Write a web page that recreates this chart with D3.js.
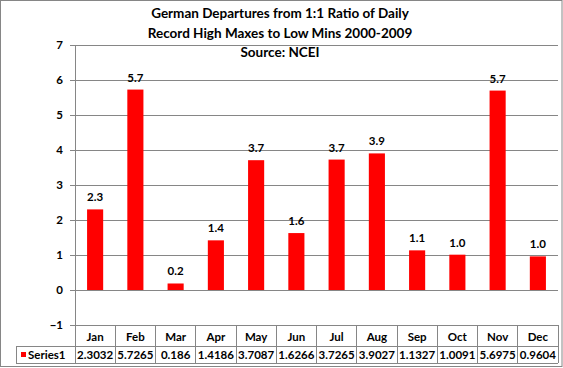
<!DOCTYPE html>
<html><head><meta charset="utf-8">
<script src="https://cdn.jsdelivr.net/npm/d3@7"></script>
<style>body{margin:0;background:#fff}svg{display:block}text{font-family:Lato,"Open Sans",sans-serif;font-weight:bold;fill:#000}</style>
</head><body><svg id="c" width="563" height="368"></svg>
<script>
const months = ["Jan","Feb","Mar","Apr","May","Jun","Jul","Aug","Sep","Oct","Nov","Dec"];
const series1 = [2.3032,5.7265,0.186,1.4186,3.7087,1.6266,3.7265,3.9027,1.1327,1.0091,5.6975,0.9604];
const tableLabels = ["2.3032","5.7265","0.186","1.4186","3.7087","1.6266","3.7265","3.9027","1.1327","1.0091","5.6975","0.9604"];
const yTicks = [-1,0,1,2,3,4,5,6,7];
const seriesName = "Series1";
const titleLines = ["German Departures from 1:1 Ratio of Daily","Record High Maxes to Low Mins 2000-2009","Source: NCEI"];

const svg = d3.select("#c");
const L = 75, R = 558, T = 45, B = 325;
const grid = "#868686";
const x = d3.scaleBand().domain(months).range([L, R]).paddingInner(0.6).paddingOuter(0.3);
const y = d3.scaleLinear().domain([-1, 7]).range([B, T]);

// outer border
svg.append("rect").attr("x",0.5).attr("y",0.5).attr("width",561.5).attr("height",366).attr("fill","none").attr("stroke",grid);

// y axis with gridlines
const yAxis = d3.axisLeft(y).tickValues(yTicks).tickSize(-(R - L)).tickPadding(12).tickFormat(d3.format("d"));
const ga = svg.append("g").attr("transform",`translate(${L},0)`).call(yAxis);
ga.select(".domain").remove();
ga.selectAll(".tick line").attr("stroke",grid).attr("x1",-5);
ga.selectAll(".tick text").style("font-size","11.5px").style("font-family","Lato,sans-serif").style("font-weight","bold").attr("fill","#000");
// vertical axis line
svg.append("line").attr("x1",L+0.5).attr("x2",L+0.5).attr("y1",T).attr("y2",363).attr("stroke",grid);

// bars
svg.append("g").selectAll("rect").data(series1).join("rect")
  .attr("x",(d,i)=>x(months[i]))
  .attr("width",x.bandwidth())
  .attr("y",d=>y(Math.max(0,d)))
  .attr("height",d=>Math.abs(y(d)-y(0)))
  .attr("fill","#ff0000");

// data labels
svg.append("g").selectAll("text").data(series1).join("text")
  .attr("x",(d,i)=>x(months[i])+x.bandwidth()/2)
  .attr("y",d=>y(d)-8)
  .attr("text-anchor","middle")
  .style("font-size","11.5px")
  .text(d=>d3.format(".1f")(d));

// data table
const step = x.step();
const colX = i => L + i*step;
const tg = svg.append("g").attr("stroke",grid).attr("shape-rendering","crispEdges");
tg.append("line").attr("x1",16).attr("x2",R).attr("y1",346).attr("y2",346);
tg.append("line").attr("x1",16).attr("x2",R).attr("y1",363).attr("y2",363);
tg.append("line").attr("x1",16).attr("x2",16).attr("y1",346).attr("y2",363);
months.forEach((m,i)=>{
  tg.append("line").attr("x1",colX(i+1)).attr("x2",colX(i+1)).attr("y1",B).attr("y2",363);
});
svg.append("g").selectAll("text").data(months).join("text")
  .attr("x",(d,i)=>colX(i)+step/2).attr("y",340.5).attr("text-anchor","middle")
  .style("font-size","11.5px").text(d=>d);
svg.append("g").selectAll("text").data(tableLabels).join("text")
  .attr("x",(d,i)=>colX(i)+step/2).attr("y",359).attr("text-anchor","middle")
  .style("font-size","11.5px").attr("textLength",null).text(d=>d);
svg.append("rect").attr("x",21).attr("y",352).attr("width",5).attr("height",5).attr("fill","#ff0000");
svg.append("text").attr("x",28).attr("y",359).style("font-size","11.5px").text(seriesName);

// title
svg.append("g").selectAll("text").data(titleLines).join("text")
  .attr("x",280).attr("y",(d,i)=>18+i*19.5).attr("text-anchor","middle")
  .style("font-size","13.5px").text(d=>d);
</script></body></html>
